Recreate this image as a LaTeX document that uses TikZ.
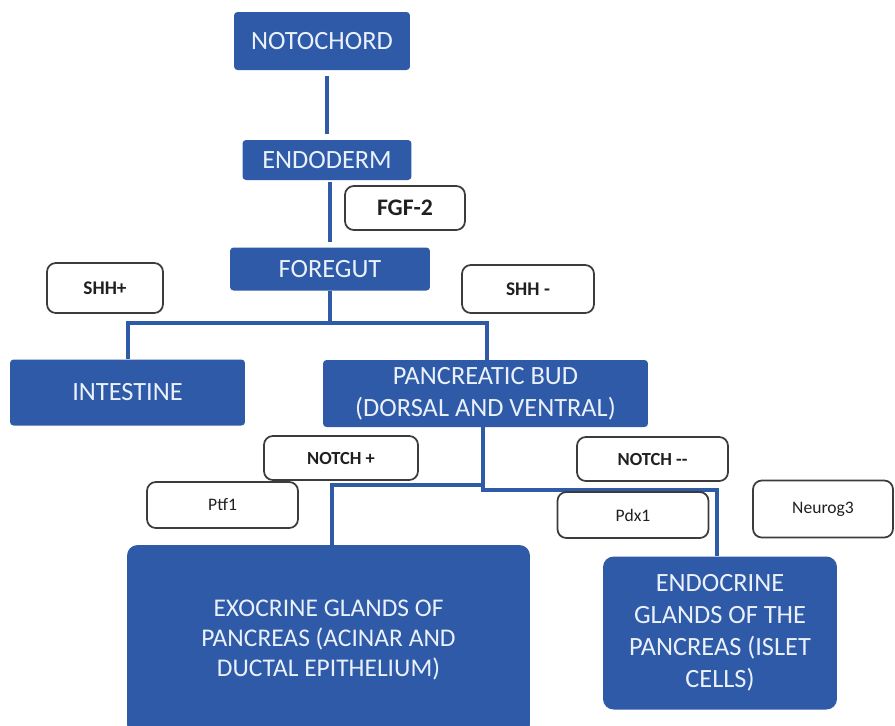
\documentclass[tikz,border=0pt]{standalone}
\usepackage{fontspec}
\setmainfont{Carlito}
\definecolor{budblue}{HTML}{2E5AA8}
\definecolor{pale}{HTML}{EAF1FB}
\definecolor{tagedge}{HTML}{3C3C3C}
\definecolor{tagtext}{HTML}{202020}
\tikzset{
  stage/.style={fill=budblue, text=pale, rounded corners=2pt, inner sep=0pt, align=center,
    font=\fontsize{15}{18}\selectfont},
  gland/.style={stage, rounded corners=6pt},
  tag/.style={draw=tagedge, line width=1pt, fill=white, text=tagtext, rounded corners=5pt,
    inner sep=0pt},
  link/.style={draw=budblue, line width=2.4pt},
}
\begin{document}
\begin{tikzpicture}[x=0.02cm, y=-0.02cm]
  \useasboundingbox (0,0) rectangle (895,725);
  % main stages
  \node[stage, minimum width=3.52cm, minimum height=1.16cm] (noto) at (322,41) {NOTOCHORD};
  \node[stage, minimum width=3.38cm, minimum height=0.8cm] (endo) at (327,160) {ENDODERM};
  \node[stage, minimum width=4.0cm, minimum height=0.86cm] (fore) at (330,269) {FOREGUT};
  \node[stage, minimum width=4.7cm, minimum height=1.32cm] (int) at (127.5,392.5) {INTESTINE};
  \node[stage, minimum width=6.5cm, minimum height=1.34cm] (bud) at (485.5,393.5)
    {PANCREATIC BUD\\(DORSAL AND VENTRAL)};
  \node[gland, minimum width=8.06cm, minimum height=3.8cm,
    font=\fontsize{14.5}{17}\selectfont] (exo) at (328.5,640)
    {EXOCRINE GLANDS OF\\PANCREAS (ACINAR AND\\DUCTAL EPITHELIUM)};
  \node[gland, minimum width=4.68cm, minimum height=3.06cm,
    font=\fontsize{15}{18.2}\selectfont] (endc) at (720,633)
    {ENDOCRINE\\GLANDS OF THE\\PANCREAS (ISLET\\CELLS)};

  % connectors
  \path[link, shorten <=3pt, shorten >=3pt] (noto.south -| endo.north) -- (endo.north);
  \path[link, shorten <=1pt, shorten >=3pt] (endo.south -| fore.north) -- (fore.north);
  \coordinate (split) at (330,323);
  \path[link] (fore.south) -- (split);
  \path[link] (int.north -| 128,0) |- (split) -| (bud.north -| 487,0);
  \coordinate (fork) at (483,485);
  \coordinate (forkr) at (483,490);
  \path[link] (bud.south -| fork) -- (forkr) -| (endc.north -| 717,0);
  \path[link] (fork) -| (exo.north -| 332,0);

  % signals
  \node[tag, minimum width=2.4cm, minimum height=0.88cm, font=\fontsize{13.5}{16}\bfseries] (fgf) at (405,208) {FGF-2};
  \node[tag, minimum width=2.32cm, minimum height=1.0cm, font=\fontsize{11}{13}\bfseries] (shhp) at (105,288) {SHH+};
  \node[tag, minimum width=2.64cm, minimum height=0.96cm, font=\fontsize{11}{13}\bfseries] (shhm) at (528,289) {SHH -};
  \node[tag, minimum width=3.08cm, minimum height=0.88cm, font=\fontsize{10.5}{13}\bfseries] (notp) at (341,458) {NOTCH +};
  \node[tag, minimum width=3.02cm, minimum height=0.88cm, font=\fontsize{10.5}{13}\bfseries] (notm) at (652.5,459) {NOTCH {-}{-}};
  \node[tag, minimum width=3.02cm, minimum height=0.92cm, font=\fontsize{10}{12}\selectfont] (ptf) at (222.5,505) {Ptf1};
  \node[tag, minimum width=3.02cm, minimum height=0.92cm, font=\fontsize{10}{12}\selectfont] (pdx) at (633,515) {Pdx1};
  \node[tag, minimum width=2.8cm, minimum height=1.14cm, font=\fontsize{10}{12}\selectfont] (neu) at (823,509) {Neurog3};
\end{tikzpicture}
\end{document}
